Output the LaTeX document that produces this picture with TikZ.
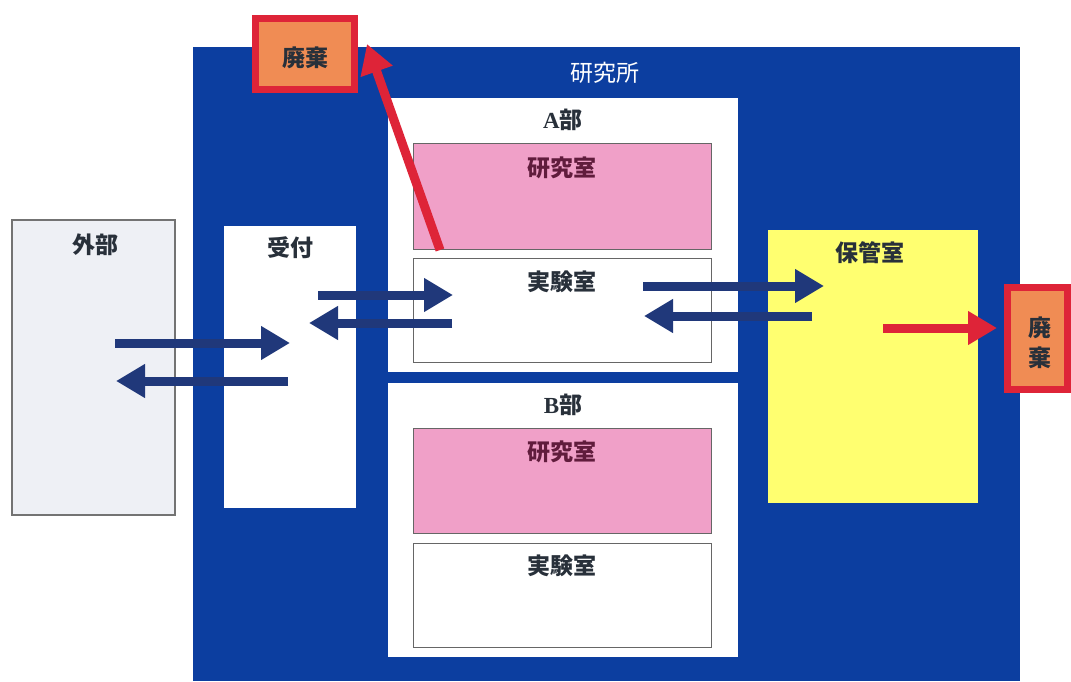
\documentclass[tikz,border=0pt]{standalone}
\usepackage{fontspec}
\setmainfont{Noto Sans CJK JP}
\newfontfamily\latinserif{Liberation Serif}
\usetikzlibrary{arrows.meta}
\definecolor{instblue}{RGB}{12,62,160}
\definecolor{flownavy}{RGB}{32,56,122}
\definecolor{labpink}{RGB}{240,160,200}
\definecolor{storeyellow}{RGB}{255,255,112}
\definecolor{wasteorange}{RGB}{240,140,84}
\definecolor{wastered}{RGB}{222,36,56}
\definecolor{outsidegrey}{RGB}{238,240,245}
\definecolor{roomtext}{RGB}{40,48,58}
\definecolor{labtext}{RGB}{96,28,60}
\tikzset{
  room/.style={rectangle, inner sep=0pt, outer sep=0pt},
  ttl/.style={inner sep=0pt, font=\fontsize{23}{25}\selectfont\bfseries, text=roomtext},
  flow/.style={draw=flownavy, line width=9pt, -{Triangle[length=29pt,width=32pt]}},
  wasteflow/.style={draw=wastered, line width=9pt, -{Triangle[length=29pt,width=32pt]}},
  waste/.style={room, draw=wastered, line width=7pt, fill=wasteorange},
}
\begin{document}
\begin{tikzpicture}[x=1pt,y=-1pt]
\useasboundingbox (0,0) rectangle (1071,681);
\fill[white] (0,0) rectangle (1071,681);

% institute area
\node[room, fill=instblue, minimum width=827pt, minimum height=634pt] (inst) at (606.5,364) {};
\node[inner sep=0pt, font=\fontsize{23}{25}\selectfont, text=white] (instlbl) at (605,73) {研究所};

% department A
\node[room, fill=white, minimum width=350pt, minimum height=274pt] (deptA) at (563,235) {};
\node[ttl] (deptAlbl) at (563,120) {{\latinserif A}部};
\node[room, fill=labpink, draw=black!60, line width=1pt, minimum width=298pt, minimum height=106pt] (labA) at (562,196) {};
\node[ttl, text=labtext] (labAlbl) at (562,168) {研究室};
\node[room, fill=white, draw=black!60, line width=1pt, minimum width=298pt, minimum height=104pt] (expA) at (562,310) {};
\node[ttl] (expAlbl) at (562,282) {実験室};

% department B
\node[room, fill=white, minimum width=350pt, minimum height=274pt] (deptB) at (563,520) {};
\node[ttl] (deptBlbl) at (563,405) {{\latinserif B}部};
\node[room, fill=labpink, draw=black!60, line width=1pt, minimum width=298pt, minimum height=105pt] (labB) at (562,480.5) {};
\node[ttl, text=labtext] (labBlbl) at (562,452) {研究室};
\node[room, fill=white, draw=black!60, line width=1pt, minimum width=298pt, minimum height=104pt] (expB) at (562,595) {};
\node[ttl] (expBlbl) at (562,566) {実験室};

% outside, reception, storage
\node[room, fill=outsidegrey, draw=black!55, line width=1.5pt, minimum width=163pt, minimum height=295pt] (outside) at (93.5,367.5) {};
\node[ttl] (outsidelbl) at (95,245) {外部};
\node[room, fill=white, minimum width=132pt, minimum height=282pt] (recept) at (290,367) {};
\node[ttl] (receptlbl) at (290,248) {受付};
\node[room, fill=storeyellow, minimum width=210pt, minimum height=273pt] (store) at (873,366.5) {};
\node[ttl] (storelbl) at (870,253) {保管室};

% disposal boxes
\node[waste, minimum width=99pt, minimum height=71pt] (wasteT) at (305,54) {};
\node[ttl] (wasteTlbl) at (305,58) {廃棄};
\node[waste, minimum width=60pt, minimum height=102pt] (wasteR) at (1037.5,338.5) {};
\node[ttl, align=center, font=\fontsize{23}{30}\selectfont\bfseries] (wasteRlbl) at (1040,343) {廃\\棄};

% flow end points
\coordinate (o1) at (115,343);   \coordinate (r1) at (290,343);
\coordinate (r2) at (288,381);   \coordinate (o2) at (116,381);
\coordinate (r3) at (318,295);   \coordinate (e1) at (453,295);
\coordinate (e2) at (452,323);   \coordinate (r4) at (309,323);
\coordinate (e3) at (643,286);   \coordinate (s1) at (824,286);
\coordinate (s2) at (812,316);   \coordinate (e4) at (644,316);
\coordinate (a1) at (440,250);   \coordinate (t1) at (367,44);
\coordinate (s3) at (883,328);   \coordinate (t2) at (997,328);

% flows
\draw[flow] (o1) -- (r1);
\draw[flow] (r2) -- (o2);
\draw[flow] (r3) -- (e1);
\draw[flow] (e2) -- (r4);
\draw[flow] (e3) -- (s1);
\draw[flow] (s2) -- (e4);
\draw[wasteflow] (a1) -- (t1);
\draw[wasteflow] (s3) -- (t2);
\end{tikzpicture}
\end{document}
